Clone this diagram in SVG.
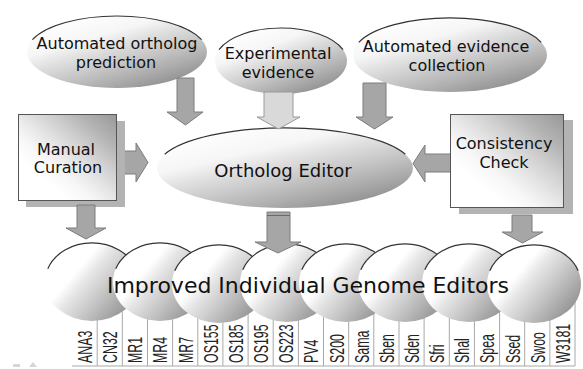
<svg xmlns="http://www.w3.org/2000/svg" width="583" height="369" viewBox="0 0 583 369">
<defs>
<linearGradient id="gEll" x1="0.15" y1="0.05" x2="0.85" y2="1">
<stop offset="0" stop-color="#ffffff"/>
<stop offset="0.28" stop-color="#f6f6f6"/>
<stop offset="0.42" stop-color="#e0e0e0"/>
<stop offset="0.58" stop-color="#c9c9c9"/>
<stop offset="0.75" stop-color="#afafaf"/>
<stop offset="1" stop-color="#868686"/>
</linearGradient>
<linearGradient id="gCirc" x1="0" y1="0.2" x2="1" y2="0.9">
<stop offset="0" stop-color="#ffffff"/>
<stop offset="0.3" stop-color="#ffffff"/>
<stop offset="0.42" stop-color="#e6e6e6"/>
<stop offset="0.57" stop-color="#cecece"/>
<stop offset="0.72" stop-color="#b4b4b4"/>
<stop offset="0.88" stop-color="#989898"/>
<stop offset="1" stop-color="#7a7a7a"/>
</linearGradient>
<linearGradient id="gBox" x1="1" y1="0" x2="0" y2="1">
<stop offset="0" stop-color="#989898"/>
<stop offset="0.2" stop-color="#b5b5b5"/>
<stop offset="0.35" stop-color="#d0d0d0"/>
<stop offset="0.5" stop-color="#e7e7e7"/>
<stop offset="0.62" stop-color="#f7f7f7"/>
<stop offset="0.75" stop-color="#ffffff"/>
</linearGradient>
</defs>
<style>
.lbl{font-family:"DejaVu Sans",Verdana,sans-serif;font-size:16px;fill:#111;text-anchor:middle}
.big{font-family:"DejaVu Sans",Verdana,sans-serif;fill:#111;text-anchor:middle}
.ell{fill:url(#gEll);stroke:none}
.circ{fill:url(#gCirc);stroke:none}
.arc{fill:none;stroke:#333;stroke-width:1.2}
.box{fill:url(#gBox);stroke:#555;stroke-width:1}
.shadow{fill:#b3b3b3}
.arrow{fill:#a6a6a6;stroke:#7c7c7c;stroke-width:1}
.arrowL{fill:#d9d9d9;stroke:#9a9a9a;stroke-width:1}
.col{stroke:#a8a8a8;stroke-width:1}
.tag{font-family:"Liberation Sans",Arial,sans-serif;font-size:20px;fill:#222}
</style>
<rect width="583" height="369" fill="#ffffff"/>

<g id="auto-ortholog-prediction">
<ellipse class="ell" cx="117" cy="52" rx="90" ry="36"/>
<path class="arc" d="M32.4,39.7 A90,36 0 0 1 201.6,39.7"/>
<text class="lbl" x="117" y="49">Automated ortholog</text>
<text class="lbl" x="116" y="68">prediction</text>
</g>

<g id="experimental-evidence">
<ellipse class="ell" cx="281" cy="61" rx="66" ry="33"/>
<path class="arc" d="M219,49.7 A66,33 0 0 1 343,49.7"/>
<text class="lbl" x="278" y="59">Experimental</text>
<text class="lbl" x="278" y="78">evidence</text>
</g>

<g id="auto-evidence-collection">
<ellipse class="ell" cx="450" cy="55" rx="97" ry="37"/>
<path class="arc" d="M358.8,42.3 A97,37 0 0 1 541.2,42.3"/>
<text class="lbl" x="446" y="52">Automated evidence</text>
<text class="lbl" x="447" y="71">collection</text>
</g>

<g id="ortholog-editor">
<ellipse class="ell" cx="285" cy="168" rx="128" ry="40"/>
<path class="arc" d="M164.7,154.3 A128,40 0 0 1 405.3,154.3"/>
<text class="big" x="283" y="177" font-size="18">Ortholog Editor</text>
</g>

<g id="connectors-in">
<path class="arrow" d="M177,78 H194 V112 H203 L185.5,125 L167,112 H177 Z"/>
<path class="arrowL" d="M264,92 H293 V117 H300 L278.5,129 L257,117 H264 Z"/>
<path class="arrow" d="M363,83 H386 V117 H393 L374.5,129 L356,117 H363 Z"/>
<path class="arrow" d="M118,151 H136 V143 L148,162.5 L136,182 V174 H118 Z"/>
<path class="arrow" d="M454,154 H425 V145 L413,163.5 L425,182 V172 H454 Z"/>
</g>

<g id="manual-curation">
<rect class="shadow" x="26" y="121" width="99" height="86"/>
<rect class="box" x="18.5" y="114.5" width="98" height="86"/>
<text class="lbl" x="66" y="155">Manual</text>
<text class="lbl" x="68" y="173">Curation</text>
</g>

<g id="consistency-check">
<rect class="shadow" x="459" y="120" width="114" height="94"/>
<rect class="box" x="450.5" y="114.5" width="113" height="93"/>
<text class="lbl" x="504" y="149">Consistency</text>
<text class="lbl" x="504" y="168">Check</text>
</g>

<g id="improved-genome-editors">
<g class="col">
<line x1="97.2" y1="300" x2="97.2" y2="366"/>
<line x1="122.3" y1="300" x2="122.3" y2="366"/>
<line x1="147.5" y1="300" x2="147.5" y2="366"/>
<line x1="172.6" y1="300" x2="172.6" y2="366"/>
<line x1="197.8" y1="300" x2="197.8" y2="366"/>
<line x1="222.9" y1="300" x2="222.9" y2="366"/>
<line x1="248.1" y1="300" x2="248.1" y2="366"/>
<line x1="273.2" y1="300" x2="273.2" y2="366"/>
<line x1="298.4" y1="300" x2="298.4" y2="366"/>
<line x1="323.5" y1="300" x2="323.5" y2="366"/>
<line x1="348.7" y1="300" x2="348.7" y2="366"/>
<line x1="373.8" y1="300" x2="373.8" y2="366"/>
<line x1="399" y1="300" x2="399" y2="366"/>
<line x1="424.1" y1="300" x2="424.1" y2="366"/>
<line x1="449.3" y1="300" x2="449.3" y2="366"/>
<line x1="474.4" y1="300" x2="474.4" y2="366"/>
<line x1="499.6" y1="300" x2="499.6" y2="366"/>
<line x1="524.7" y1="300" x2="524.7" y2="366"/>
<line x1="549.9" y1="300" x2="549.9" y2="366"/>
<line x1="575" y1="300" x2="575" y2="366"/>
<line x1="72" y1="366" x2="575" y2="366"/>
</g>
<ellipse class="circ" cx="92" cy="282" rx="47" ry="39"/>
<path class="arc" d="M47.8,268.7 A47,39 0 0 1 136.2,268.7"/>
<ellipse class="circ" cx="160" cy="282" rx="47" ry="39"/>
<path class="arc" d="M115.8,268.7 A47,39 0 0 1 204.2,268.7"/>
<ellipse class="circ" cx="219" cy="284" rx="47" ry="39"/>
<path class="arc" d="M174.8,270.7 A47,39 0 0 1 263.2,270.7"/>
<ellipse class="circ" cx="287" cy="283" rx="47" ry="39"/>
<path class="arc" d="M242.8,269.7 A47,39 0 0 1 331.2,269.7"/>
<ellipse class="circ" cx="346" cy="283" rx="47" ry="39"/>
<path class="arc" d="M301.8,269.7 A47,39 0 0 1 390.2,269.7"/>
<ellipse class="circ" cx="405" cy="283" rx="47" ry="39"/>
<path class="arc" d="M360.8,269.7 A47,39 0 0 1 449.2,269.7"/>
<ellipse class="circ" cx="469" cy="283" rx="47" ry="39"/>
<path class="arc" d="M424.8,269.7 A47,39 0 0 1 513.2,269.7"/>
<ellipse class="circ" cx="534" cy="284" rx="47" ry="39"/>
<path class="arc" d="M489.8,270.7 A47,39 0 0 1 578.2,270.7"/>
<text class="big" x="308" y="293" font-size="22">Improved Individual Genome Editors</text>
<g class="tag">
<text transform="translate(92,363) rotate(-90) scale(0.62,1)">ANA3</text>
<text transform="translate(117,363) rotate(-90) scale(0.62,1)">CN32</text>
<text transform="translate(142,363) rotate(-90) scale(0.62,1)">MR1</text>
<text transform="translate(167,363) rotate(-90) scale(0.62,1)">MR4</text>
<text transform="translate(193,363) rotate(-90) scale(0.62,1)">MR7</text>
<text transform="translate(218,363) rotate(-90) scale(0.62,1)">OS155</text>
<text transform="translate(243,363) rotate(-90) scale(0.62,1)">OS185</text>
<text transform="translate(268,363) rotate(-90) scale(0.62,1)">OS195</text>
<text transform="translate(293,363) rotate(-90) scale(0.62,1)">OS223</text>
<text transform="translate(318,363) rotate(-90) scale(0.62,1)">PV4</text>
<text transform="translate(344,363) rotate(-90) scale(0.62,1)">S200</text>
<text transform="translate(369,363) rotate(-90) scale(0.62,1)">Sama</text>
<text transform="translate(394,363) rotate(-90) scale(0.62,1)">Sben</text>
<text transform="translate(419,363) rotate(-90) scale(0.62,1)">Sden</text>
<text transform="translate(444,363) rotate(-90) scale(0.62,1)">Sfri</text>
<text transform="translate(469,363) rotate(-90) scale(0.62,1)">Shal</text>
<text transform="translate(494,363) rotate(-90) scale(0.62,1)">Spea</text>
<text transform="translate(520,363) rotate(-90) scale(0.62,1)">Ssed</text>
<text transform="translate(545,363) rotate(-90) scale(0.62,1)">Swoo</text>
<text transform="translate(570,363) rotate(-90) scale(0.62,1)">W3181</text>
</g>
</g>

<g id="connectors-out">
<path class="arrow" d="M77,205 H95 V228 H106 L86,239 L66,228 H77 Z"/>
<path class="arrow" d="M267,212 H290 V242 H301 L278,253 L255,242 H267 Z"/>
<line x1="267" y1="215.5" x2="290" y2="215.5" stroke="#6a6a6a" stroke-width="1"/>
<path class="arrow" d="M512,215 H532 V232 H543 L522.5,243 L502,232 H512 Z"/>
</g>

<g id="marks" fill="#d6d6d6">
<rect x="13" y="364" width="7" height="3"/>
<polygon points="29,367 33,362 37,367"/>
</g>
</svg>
